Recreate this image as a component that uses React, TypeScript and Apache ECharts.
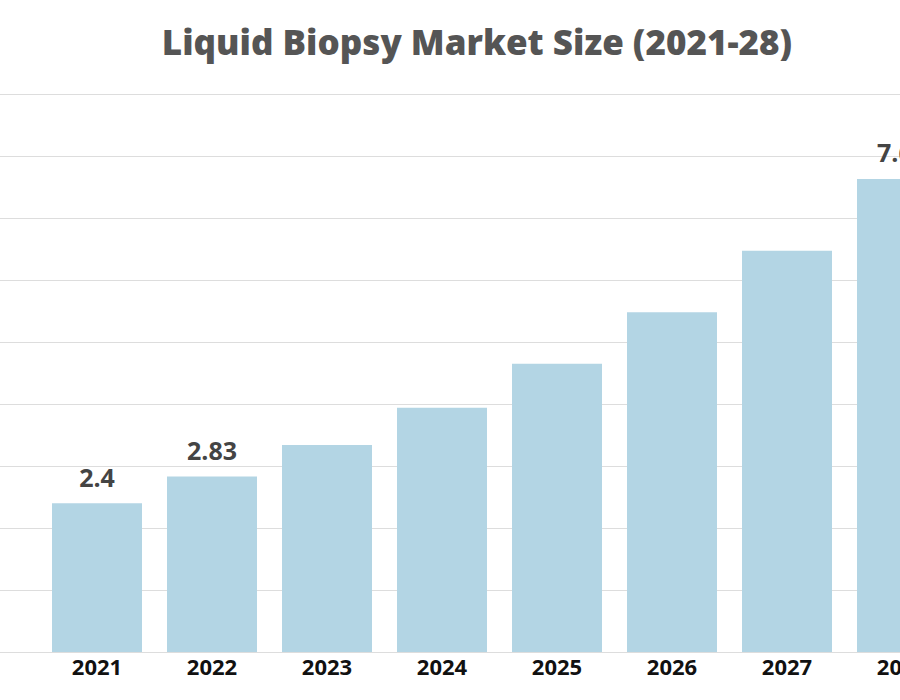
import React, { useEffect, useRef } from "react";
import * as echarts from "echarts";

const titleText = "Liquid Biopsy Market Size (2021-28)";
const categories = ["2021", "2022", "2023", "2024", "2025", "2026", "2027", "2028"];
const values = [2.4, 2.83, 3.34, 3.94, 4.65, 5.48, 6.47, 7.63];
const labeledYears = ["2021", "2022", "2028"];
const yMin = 0;
const yMax = 9;
const yInterval = 1;

export default function App() {
  const ref = useRef<HTMLDivElement>(null);
  useEffect(() => {
    if (!ref.current) return;
    const chart = echarts.init(ref.current, null, { renderer: "svg" });
    const font = "'Open Sans', 'Noto Sans', sans-serif";
    chart.setOption({
      animation: false,
      backgroundColor: "#ffffff",
      title: {
        text: titleText,
        left: 472,
        top: 19,
        textAlign: "center",
        textStyle: {
          fontFamily: font,
          fontWeight: 800,
          fontSize: 35,
          color: "#555555",
        },
      },
      grid: [
        { left: 39.5, right: 40.5, top: 94, height: 558, containLabel: false },
        { left: 0, right: 100, top: 94, height: 558, containLabel: false },
      ],
      xAxis: [
        {
          type: "category",
          gridIndex: 0,
          data: categories,
          boundaryGap: true,
          axisLine: { show: false },
          axisTick: { show: false },
          axisLabel: {
            margin: 3,
            fontFamily: font,
            fontWeight: "bold",
            fontSize: 22,
            color: "#111111",
          },
        },
        { type: "value", gridIndex: 1, show: false, min: 0, max: 1 },
      ],
      yAxis: [
        {
          type: "value",
          gridIndex: 0,
          min: yMin,
          max: yMax,
          interval: yInterval,
          show: false,
          splitLine: { show: false },
        },
        {
          type: "value",
          gridIndex: 1,
          min: yMin,
          max: yMax,
          interval: yInterval,
          axisLabel: { show: false },
          axisLine: { show: false },
          axisTick: { show: false },
          splitLine: { show: true, lineStyle: { color: "#dddddd", width: 1 } },
        },
      ],
      series: [
        {
          type: "bar",
          xAxisIndex: 0,
          yAxisIndex: 0,
          barWidth: 90,
          itemStyle: { color: "#b3d5e4" },
          label: {
            position: "top",
            distance: 14,
            fontFamily: font,
            fontWeight: "bold",
            fontSize: 25,
            color: "#444444",
          },
          data: values.map((v, i) => ({
            value: v,
            label: { show: labeledYears.includes(categories[i]) },
          })),
        },
      ],
    });
    return () => chart.dispose();
  }, []);
  return (
    <div
      style={{
        position: "absolute",
        left: 0,
        top: 0,
        width: 900,
        height: 700,
        overflow: "hidden",
      }}
    >
      <div ref={ref} style={{ width: 1000, height: 700 }} />
    </div>
  );
}
